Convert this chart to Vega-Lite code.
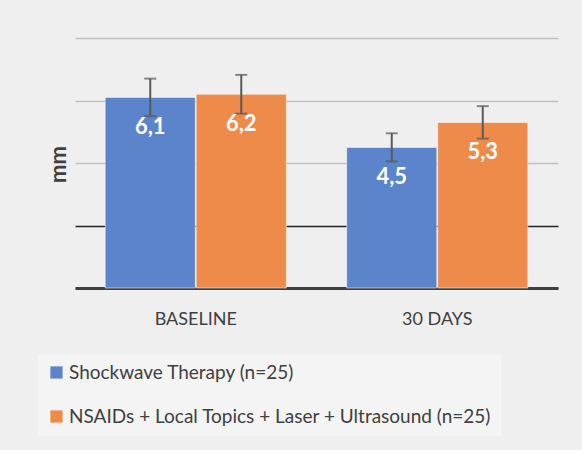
{
  "$schema": "https://vega.github.io/schema/vega-lite/v6.json",
  "autosize": "none",
  "width": 483,
  "height": 250,
  "padding": {"left": 75, "top": 38, "right": 24, "bottom": 162},
  "background": "#efefef",
  "config": {
    "font": "Lato",
    "view": {"stroke": null},
    "locale": {"number": {"decimal": ",", "thousands": ".", "grouping": [3], "currency": ["", " €"]}}
  },
  "data": {
    "values": [
      {"time": "BASELINE", "group": "Shockwave Therapy (n=25)", "value": 6.1, "err": 0.6},
      {"time": "BASELINE", "group": "NSAIDs + Local Topics + Laser + Ultrasound (n=25)", "value": 6.2, "err": 0.62},
      {"time": "30 DAYS", "group": "Shockwave Therapy (n=25)", "value": 4.5, "err": 0.45},
      {"time": "30 DAYS", "group": "NSAIDs + Local Topics + Laser + Ultrasound (n=25)", "value": 5.3, "err": 0.52}
    ]
  },
  "transform": [
    {"calculate": "datum.value + datum.err", "as": "hi"},
    {"calculate": "datum.value - datum.err", "as": "lo"}
  ],
  "encoding": {
    "x": {
      "field": "time", "type": "nominal", "sort": ["BASELINE", "30 DAYS"],
      "scale": {"paddingInner": 0.25, "paddingOuter": 0.125},
      "axis": {
        "title": null, "ticks": false, "labelAngle": 0, "labelFontSize": 18, "labelColor": "#404040",
        "labelPadding": 22, "domainColor": "#404040", "domainWidth": 3, "labelFont": "Lato"
      }
    },
    "xOffset": {
      "field": "group", "type": "nominal",
      "sort": ["Shockwave Therapy (n=25)", "NSAIDs + Local Topics + Laser + Ultrasound (n=25)"],
      "scale": {"paddingInner": 0.01}
    }
  },
  "layer": [
    {
      "mark": {"type": "bar", "stroke": "white", "strokeOpacity": 0.5, "strokeWidth": 1},
      "encoding": {
        "y": {
          "field": "value", "type": "quantitative",
          "scale": {"domain": [0, 8]},
          "axis": {
            "values": [0, 2, 4, 6, 8], "labels": false, "ticks": false, "domain": false,
            "title": "mm", "titleFontSize": 22, "titleFontWeight": "bold", "titleColor": "#404040",
            "titleX": -17, "titleY": 126, "titleAngle": -90, "titleAlign": "center", "titleBaseline": "middle",
            "gridColor": {"condition": {"test": "datum.value == 2", "value": "#222222"}, "value": "#bfbfbf"},
            "gridWidth": 1.5
          }
        },
        "color": {
          "field": "group", "type": "nominal",
          "sort": ["Shockwave Therapy (n=25)", "NSAIDs + Local Topics + Laser + Ultrasound (n=25)"],
          "scale": {"range": ["#5b84ca", "#ee8b4b"]},
          "legend": {
            "title": null, "orient": "none", "legendX": -37, "legendY": 316,
            "symbolType": "square", "symbolSize": 150, "symbolStrokeWidth": 0,
            "labelFontSize": 19, "labelColor": "#404040", "labelFont": "Lato", "labelLimit": 600,
            "rowPadding": 24, "padding": 9, "fillColor": "#f4f4f4", "labelOffset": 3
          }
        }
      }
    },
    {
      "mark": {"type": "rule", "color": "#595959", "strokeWidth": 2},
      "encoding": {
        "y": {"field": "lo", "type": "quantitative"},
        "y2": {"field": "hi"}
      }
    },
    {
      "mark": {"type": "tick", "color": "#595959", "thickness": 2, "size": 12},
      "encoding": {"y": {"field": "hi", "type": "quantitative"}}
    },
    {
      "mark": {"type": "tick", "color": "#595959", "thickness": 2, "size": 12},
      "encoding": {"y": {"field": "lo", "type": "quantitative"}}
    },
    {
      "mark": {"type": "text", "color": "white", "fontSize": 22, "fontWeight": "bold", "baseline": "middle", "dy": 30, "font": "Lato"},
      "encoding": {
        "y": {"field": "value", "type": "quantitative"},
        "text": {"field": "value", "type": "quantitative", "format": ".1f"}
      }
    }
  ]
}
